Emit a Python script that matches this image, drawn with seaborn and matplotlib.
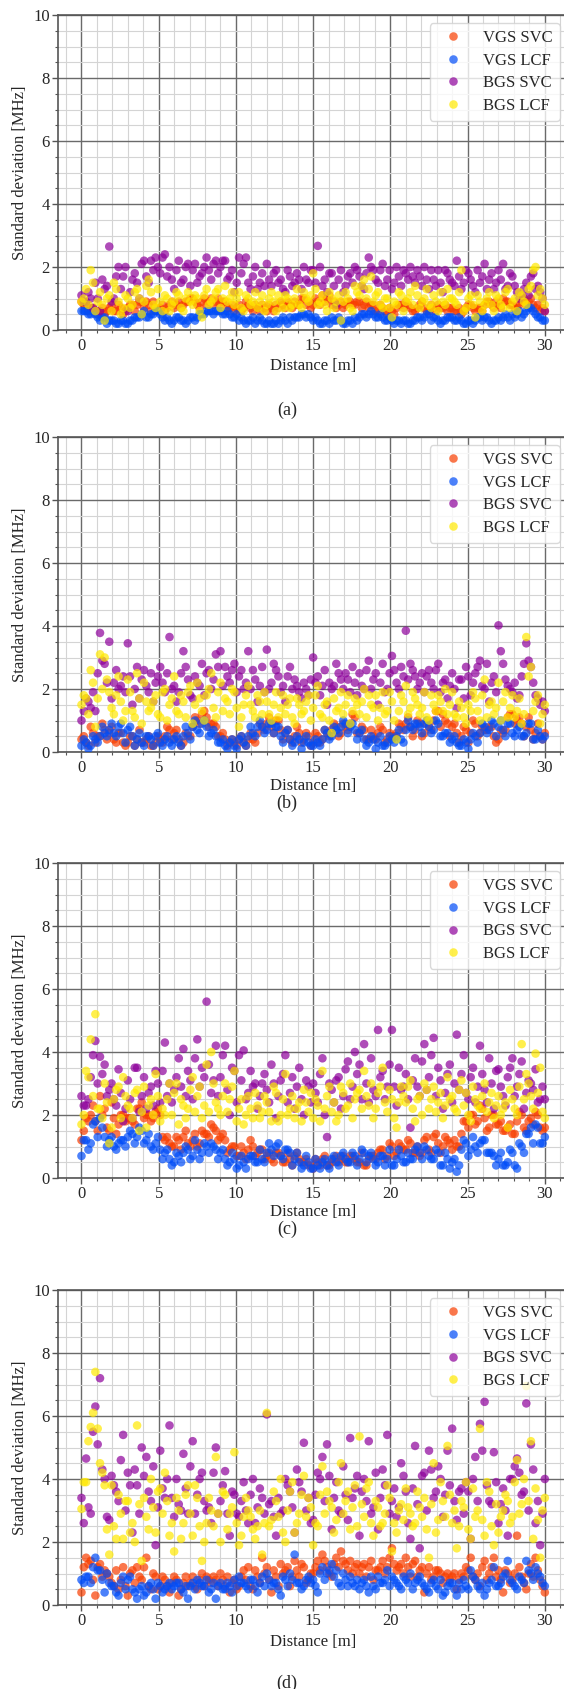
import numpy as np
import pandas as pd
import matplotlib
matplotlib.use("Agg")
import matplotlib.pyplot as plt
from matplotlib.ticker import MultipleLocator
import seaborn as sns

# ---------------- data ----------------
DISTANCE = [round(i * 0.3, 2) for i in range(101)]            # positions 0, 0.3, ... 30 m
DISTANCE_MID = [round(0.15 + i * 0.3, 2) for i in range(100)]  # positions 0.15, 0.45, ... 29.85 m
SERIES = ["VGS SVC", "VGS LCF", "BGS SVC", "BGS LCF"]
COLORS = {"VGS SVC": "#F83E00", "VGS LCF": "#004CF8", "BGS SVC": "#8D009B", "BGS LCF": "#FFE900"}
PANEL_LABELS = ["(a)", "(b)", "(c)", "(d)"]
X_TICKS = [0, 5, 10, 15, 20, 25, 30]
Y_TICKS = [0, 2, 4, 6, 8, 10]

# ---- panel (a)
a_vgs_svc = [0.9, 0.8, 0.7, 0.6, 0.6, 0.5, 0.7, 0.6, 0.8, 0.5, 0.7, 0.8, 0.8, 0.9, 0.9, 0.6, 0.7, 0.7, 0.6, 0.8,
             0.7, 0.9, 0.8, 0.9, 1.0, 0.8, 0.9, 0.8, 1.0, 0.9, 0.8, 0.9, 0.7, 0.6, 0.8, 0.7, 0.8, 0.6, 0.7, 0.8,
             0.6, 0.7, 0.8, 0.9, 0.7, 0.8, 0.9, 0.8, 1.0, 0.9, 0.8, 0.9, 1.1, 1.0, 0.8, 0.7, 0.9, 0.8, 0.9, 0.8,
             0.9, 0.8, 0.7, 0.8, 0.6, 0.7, 0.5, 0.6, 0.7, 0.8, 0.9, 0.7, 0.6, 0.8, 0.7, 0.6, 0.7, 0.8, 0.7, 0.6,
             0.7, 0.6, 0.5, 0.7, 0.8, 0.6, 0.7, 0.8, 0.9, 0.7, 0.8, 1.0, 0.9, 0.8, 0.7, 0.9, 0.8, 1.0, 0.7, 0.6, 0.6]
a_vgs_svc_mid = [0.8, 0.6, 0.7, 0.5, 0.7, 0.6, 0.8, 0.6, 0.7, 0.6, 0.8, 0.6, 0.9, 0.7, 0.8, 0.9, 0.6, 0.8, 0.7, 0.9,
                 0.8, 0.7, 0.9, 1.0, 0.9, 0.7, 1.0, 0.9, 0.8, 1.0, 0.9, 0.7, 0.8, 0.7, 0.6, 0.9, 0.7, 0.8, 0.6, 0.7,
                 0.8, 0.6, 0.7, 0.8, 0.9, 0.7, 0.8, 1.0, 0.8, 0.7, 1.0, 0.8, 0.9, 1.1, 0.9, 0.8, 0.7, 0.9, 0.8, 0.9,
                 0.7, 0.9, 0.8, 0.6, 0.8, 0.6, 0.7, 0.5, 0.8, 0.7, 0.8, 0.6, 0.7, 0.9, 0.6, 0.8, 0.6, 0.7, 0.8, 0.7,
                 0.6, 0.7, 0.6, 0.8, 0.7, 0.7, 0.6, 0.9, 0.8, 0.9, 0.7, 0.9, 0.8, 0.7, 0.8, 1.0, 0.9, 0.8, 0.8, 0.7]
a_vgs_lcf = [0.6, 0.6, 0.5, 0.5, 0.3, 0.4, 0.3, 0.3, 0.2, 0.3, 0.2, 0.3, 0.4, 0.5, 0.4, 0.5, 0.6, 0.5, 0.3, 0.3,
             0.3, 0.4, 0.3, 0.3, 0.4, 0.4, 0.5, 0.6, 0.6, 0.6, 0.6, 0.5, 0.5, 0.4, 0.3, 0.3, 0.3, 0.4, 0.3, 0.3,
             0.2, 0.2, 0.3, 0.3, 0.3, 0.4, 0.4, 0.4, 0.5, 0.5, 0.3, 0.3, 0.2, 0.3, 0.4, 0.3, 0.3, 0.2, 0.3, 0.4,
             0.4, 0.5, 0.5, 0.5, 0.4, 0.4, 0.3, 0.3, 0.3, 0.2, 0.3, 0.2, 0.3, 0.4, 0.4, 0.5, 0.4, 0.3, 0.3, 0.4,
             0.4, 0.3, 0.3, 0.2, 0.3, 0.3, 0.4, 0.4, 0.3, 0.3, 0.4, 0.4, 0.4, 0.5, 0.5, 0.4, 0.6, 0.7, 0.5, 0.4, 0.3]
a_vgs_lcf_mid = [0.6, 0.5, 0.6, 0.4, 0.4, 0.2, 0.3, 0.2, 0.3, 0.2, 0.3, 0.4, 0.4, 0.6, 0.4, 0.5, 0.6, 0.4, 0.4, 0.2,
                 0.4, 0.3, 0.2, 0.4, 0.3, 0.5, 0.5, 0.6, 0.5, 0.6, 0.5, 0.6, 0.4, 0.5, 0.4, 0.2, 0.3, 0.2, 0.4, 0.2,
                 0.3, 0.2, 0.2, 0.4, 0.2, 0.3, 0.4, 0.5, 0.4, 0.4, 0.4, 0.2, 0.3, 0.2, 0.3, 0.4, 0.2, 0.3, 0.2, 0.3,
                 0.5, 0.4, 0.6, 0.4, 0.5, 0.3, 0.4, 0.2, 0.3, 0.3, 0.2, 0.3, 0.4, 0.3, 0.5, 0.3, 0.4, 0.2, 0.3, 0.4,
                 0.3, 0.4, 0.2, 0.3, 0.2, 0.4, 0.3, 0.4, 0.2, 0.3, 0.3, 0.5, 0.3, 0.4, 0.6, 0.5, 0.7, 0.6, 0.4, 0.3]
a_bgs_svc = [1.1, 0.9, 1.0, 1.5, 0.6, 1.3, 2.65, 1.0, 2.0, 1.7, 0.6, 1.6, 1.5, 2.1, 1.7, 2.2, 2.3, 1.8, 2.4, 2.0,
             1.3, 2.2, 1.6, 2.1, 1.9, 1.5, 1.8, 2.3, 1.6, 2.2, 2.0, 2.2, 1.7, 1.2, 2.3, 2.1, 1.5, 1.7, 1.3, 1.8,
             2.1, 1.4, 1.9, 1.6, 1.2, 1.7, 1.5, 1.6, 2.0, 1.5, 1.9, 2.67, 1.4, 1.2, 1.8, 0.8, 1.9, 1.4, 1.8, 2.0,
             1.7, 1.3, 2.3, 1.9, 1.5, 2.1, 1.6, 1.3, 2.0, 1.4, 1.8, 2.0, 1.5, 1.7, 2.0, 1.3, 1.6, 1.9, 1.2, 1.8,
             1.5, 2.2, 1.3, 1.9, 1.6, 1.2, 1.5, 2.1, 1.6, 1.3, 1.9, 2.1, 1.4, 1.7, 1.2, 1.1, 1.5, 1.7, 1.3, 1.2, 0.6]
a_bgs_svc_mid = [0.9, 1.2, 0.7, 1.0, 1.6, 1.4, 0.9, 1.7, 1.3, 2.0, 1.2, 1.8, 1.0, 2.2, 1.5, 1.9, 2.0, 2.3, 1.7, 1.6,
                 1.9, 1.5, 2.0, 1.4, 2.1, 1.7, 2.0, 1.9, 2.1, 1.8, 2.2, 1.6, 1.9, 1.5, 1.8, 2.3, 1.3, 2.0, 1.5, 1.4,
                 1.6, 1.8, 1.5, 1.3, 1.9, 1.4, 1.8, 1.3, 1.6, 1.9, 1.5, 2.0, 1.6, 1.8, 1.4, 1.6, 1.2, 1.7, 1.5, 1.9,
                 1.4, 1.8, 2.0, 1.6, 1.9, 1.4, 1.9, 1.5, 1.7, 1.9, 1.6, 1.7, 1.9, 1.4, 1.6, 1.9, 1.4, 1.5, 1.9, 1.6,
                 1.4, 1.7, 1.5, 1.8, 1.4, 1.9, 1.7, 1.3, 1.8, 1.5, 1.6, 1.3, 1.8, 1.4, 1.0, 1.3, 1.1, 1.8, 1.4, 1.0]
a_bgs_lcf = [0.9, 1.3, 1.9, 0.6, 1.2, 0.3, 1.1, 1.5, 0.9, 0.7, 1.0, 0.8, 1.3, 0.5, 1.4, 1.2, 0.7, 0.9, 1.1, 0.6,
             0.9, 1.1, 0.6, 1.2, 0.8, 1.0, 0.4, 1.3, 0.9, 1.2, 0.7, 1.4, 1.0, 0.8, 1.2, 0.6, 1.0, 0.9, 0.7, 1.1,
             0.8, 1.2, 0.6, 0.9, 1.1, 0.7, 1.0, 0.8, 1.2, 0.9, 1.8, 0.8, 1.1, 0.6, 1.0, 0.9, 0.3, 1.2, 0.7, 1.4,
             1.1, 1.6, 1.3, 0.9, 1.2, 0.7, 1.0, 0.4, 0.8, 1.1, 0.9, 1.2, 1.4, 0.7, 1.0, 0.8, 1.1, 0.6, 0.9, 1.3,
             1.0, 0.8, 1.9, 0.7, 1.1, 0.4, 0.9, 0.8, 1.2, 0.6, 1.0, 0.7, 1.3, 0.9, 0.6, 1.1, 0.8, 1.4, 2.0, 1.3, 0.8]
a_bgs_lcf_mid = [1.0, 0.8, 1.5, 0.9, 0.8, 1.0, 0.6, 1.3, 0.5, 1.1, 0.7, 1.2, 1.0, 0.9, 1.6, 0.8, 1.3, 0.6, 1.0, 0.8,
                 1.2, 0.7, 1.0, 0.9, 1.1, 0.6, 1.1, 0.8, 1.0, 1.3, 1.0, 0.9, 1.2, 1.0, 0.7, 1.1, 0.8, 1.2, 0.9, 0.6,
                 1.0, 0.9, 1.1, 0.7, 1.0, 0.8, 1.3, 0.7, 1.0, 1.1, 1.3, 0.9, 0.8, 1.2, 0.7, 1.1, 0.9, 1.0, 0.6, 1.2,
                 1.4, 1.0, 1.7, 1.1, 0.8, 1.0, 0.7, 0.9, 1.2, 0.6, 1.0, 0.8, 1.1, 0.9, 1.3, 0.7, 0.9, 1.2, 0.8, 1.0,
                 0.9, 1.2, 0.6, 1.0, 0.8, 1.1, 0.6, 1.0, 0.8, 1.1, 0.8, 1.2, 0.7, 1.0, 1.2, 0.9, 1.3, 1.9, 1.1, 1.0]

# ---- panel (b)
b_vgs_svc = [0.4, 0.3, 0.8, 0.3, 0.5, 0.7, 0.6, 0.4, 0.6, 0.3, 0.3, 0.5, 0.4, 0.3, 0.4, 0.2, 0.3, 0.4, 0.5, 0.7,
             0.6, 0.4, 0.3, 0.5, 0.8, 1.0, 1.2, 1.1, 0.9, 0.8, 0.5, 0.4, 0.3, 0.3, 0.4, 0.3, 0.4, 0.4, 0.6, 0.8,
             0.9, 0.8, 1.0, 0.7, 0.6, 0.4, 0.5, 0.6, 0.4, 0.5, 0.3, 0.5, 0.4, 0.6, 0.7, 0.8, 0.6, 0.8, 0.9, 1.1,
             0.6, 0.7, 0.4, 0.5, 0.6, 0.7, 0.4, 0.5, 0.6, 0.8, 0.9, 0.8, 0.7, 0.9, 0.6, 0.8, 1.0, 1.3, 1.2, 0.9,
             0.8, 0.6, 0.5, 0.7, 0.6, 0.9, 0.6, 0.7, 0.8, 0.5, 0.4, 0.6, 1.1, 1.2, 1.0, 0.9, 0.8, 0.7, 0.6, 0.5, 0.6]
b_vgs_svc_mid = [0.5, 0.2, 0.6, 0.5, 0.9, 0.4, 0.8, 0.3, 0.6, 0.2, 0.5, 0.2, 0.7, 0.3, 0.5, 0.2, 0.5, 0.3, 0.8, 0.4,
                 0.7, 0.2, 0.6, 0.5, 1.1, 0.9, 1.3, 0.8, 0.9, 0.5, 0.6, 0.2, 0.4, 0.2, 0.5, 0.2, 0.6, 0.3, 0.9, 0.7,
                 1.1, 0.6, 1.0, 0.4, 0.7, 0.3, 0.8, 0.3, 0.6, 0.2, 0.6, 0.3, 0.7, 0.5, 0.9, 0.5, 0.9, 0.7, 1.2, 0.6,
                 0.8, 0.4, 0.7, 0.4, 0.8, 0.3, 0.6, 0.5, 0.9, 0.7, 1.1, 0.5, 1.0, 0.5, 0.9, 0.7, 1.3, 0.8, 1.0, 0.5,
                 0.9, 0.3, 0.8, 0.3, 1.0, 0.5, 0.8, 0.7, 0.8, 0.3, 0.7, 0.7, 1.2, 0.9, 1.1, 0.5, 1.1, 0.4, 0.9, 0.4]
b_vgs_lcf = [0.2, 0.3, 0.2, 0.4, 0.5, 0.6, 0.7, 0.6, 0.8, 0.6, 0.7, 0.5, 0.4, 0.3, 0.5, 0.4, 0.5, 0.3, 0.4, 0.3,
             0.4, 0.3, 0.5, 0.6, 0.8, 0.7, 0.9, 0.8, 0.6, 0.5, 0.3, 0.2, 0.3, 0.2, 0.4, 0.3, 0.5, 0.6, 0.8, 0.8,
             0.7, 0.9, 0.8, 0.5, 0.6, 0.4, 0.3, 0.4, 0.3, 0.3, 0.2, 0.3, 0.4, 0.6, 0.5, 0.7, 0.8, 0.9, 0.8, 0.7,
             0.6, 0.4, 0.3, 0.4, 0.3, 0.2, 0.3, 0.4, 0.5, 0.4, 0.7, 0.8, 0.9, 0.8, 0.9, 0.8, 0.7, 0.9, 0.5, 0.6,
             0.4, 0.3, 0.2, 0.3, 0.4, 0.5, 0.6, 0.8, 0.7, 0.9, 0.8, 0.7, 0.9, 0.6, 0.7, 0.5, 0.6, 0.9, 0.4, 0.5, 0.5]
b_vgs_lcf_mid = [0.4, 0.1, 0.5, 0.3, 0.8, 0.5, 0.9, 0.5, 0.9, 0.3, 0.8, 0.2, 0.6, 0.2, 0.5, 0.2, 0.6, 0.2, 0.5, 0.2,
                 0.5, 0.2, 0.8, 0.4, 1.0, 0.6, 1.0, 0.5, 0.7, 0.3, 0.4, 0.1, 0.4, 0.1, 0.5, 0.2, 0.8, 0.5, 1.0, 0.6,
                 0.9, 0.6, 0.8, 0.3, 0.7, 0.2, 0.5, 0.1, 0.5, 0.2, 0.4, 0.2, 0.7, 0.4, 0.8, 0.6, 1.0, 0.6, 0.9, 0.4,
                 0.7, 0.2, 0.5, 0.1, 0.5, 0.2, 0.5, 0.3, 0.7, 0.3, 1.0, 0.7, 0.9, 0.6, 1.0, 0.6, 1.0, 0.5, 0.6, 0.3,
                 0.5, 0.2, 0.4, 0.1, 0.6, 0.3, 0.9, 0.6, 1.0, 0.5, 1.0, 0.5, 0.9, 0.5, 0.8, 0.5, 0.9, 0.4, 0.7, 0.4]
b_bgs_svc = [1.0, 1.7, 1.4, 1.3, 3.78, 2.8, 3.5, 2.2, 2.0, 2.4, 3.45, 1.5, 2.7, 2.3, 2.1, 2.5, 2.2, 2.7, 1.9, 3.65,
             2.1, 1.9, 3.2, 2.3, 1.7, 2.2, 2.8, 2.5, 2.0, 3.1, 3.2, 2.7, 2.2, 2.8, 2.4, 2.0, 3.2, 2.6, 1.6, 2.7,
             3.25, 2.2, 2.6, 1.9, 1.6, 2.7, 2.3, 1.9, 2.2, 1.8, 3.0, 2.4, 2.1, 1.5, 2.0, 2.8, 2.3, 2.5, 1.9, 2.2,
             2.5, 2.0, 2.9, 2.3, 1.5, 2.8, 2.0, 3.05, 2.2, 2.7, 3.85, 2.8, 2.4, 2.2, 1.9, 2.6, 2.0, 2.8, 2.2, 1.7,
             2.5, 1.4, 2.3, 2.7, 1.8, 2.5, 2.9, 2.0, 1.6, 2.4, 4.02, 2.8, 2.1, 1.9, 1.7, 2.4, 3.45, 2.7, 1.8, 1.5, 1.3]
b_bgs_svc_mid = [1.3, 1.6, 1.9, 2.5, 2.9, 2.2, 1.7, 2.6, 2.1, 1.9, 2.4, 2.0, 1.7, 2.6, 1.9, 1.6, 2.4, 2.2, 2.5, 2.0,
                 1.6, 2.5, 2.7, 1.8, 2.4, 2.1, 1.8, 2.6, 2.3, 2.7, 2.1, 2.4, 2.6, 1.9, 2.6, 2.2, 2.0, 2.3, 2.1, 1.9,
                 2.0, 2.8, 2.4, 2.1, 2.4, 2.0, 2.1, 1.7, 2.0, 2.3, 2.2, 1.8, 2.6, 2.2, 2.1, 2.5, 2.0, 2.3, 2.7, 1.8,
                 2.1, 2.6, 2.0, 2.5, 2.2, 1.9, 2.5, 2.6, 2.0, 2.4, 2.3, 2.6, 2.0, 2.5, 2.4, 2.2, 2.6, 1.9, 2.3, 2.1,
                 2.0, 2.3, 1.7, 2.4, 2.2, 2.7, 2.1, 2.8, 2.2, 1.9, 3.2, 2.3, 2.0, 2.2, 1.8, 2.8, 2.9, 2.2, 1.7, 1.6]
b_bgs_lcf = [1.5, 1.7, 2.6, 0.8, 3.1, 3.0, 1.9, 1.2, 2.4, 1.0, 2.3, 1.3, 2.5, 0.9, 1.6, 1.4, 1.8, 1.1, 2.0, 1.5,
             2.4, 1.2, 1.6, 1.9, 0.9, 2.2, 1.3, 1.8, 2.5, 1.1, 2.2, 1.7, 1.2, 1.9, 0.8, 1.5, 2.1, 1.3, 1.8, 1.2,
             1.6, 1.0, 1.9, 1.4, 1.2, 1.7, 0.9, 1.5, 1.3, 1.8, 1.4, 2.1, 1.1, 1.6, 0.6, 1.3, 1.9, 1.5, 0.9, 1.7,
             1.2, 2.0, 1.8, 1.4, 1.0, 1.9, 1.3, 1.6, 0.4, 1.8, 2.1, 1.4, 1.7, 1.2, 1.9, 1.0, 1.5, 1.8, 1.3, 1.2,
             1.9, 1.1, 1.4, 0.9, 1.3, 1.7, 1.0, 2.3, 1.5, 1.2, 2.2, 1.6, 1.1, 1.8, 1.3, 0.9, 3.65, 2.7, 1.6, 0.9, 1.5]
b_bgs_lcf_mid = [1.8, 1.2, 2.2, 1.7, 2.0, 2.3, 1.4, 1.8, 1.6, 1.3, 1.9, 1.1, 1.7, 2.2, 1.3, 1.6, 1.2, 1.9, 1.0, 1.7,
                 1.3, 1.8, 1.1, 2.1, 1.5, 1.7, 1.0, 2.0, 1.4, 1.9, 1.3, 1.6, 2.0, 1.4, 1.1, 1.8, 1.5, 1.1, 1.6, 1.9,
                 1.2, 1.5, 1.1, 1.8, 1.5, 1.1, 1.7, 1.2, 1.6, 1.0, 1.8, 1.2, 1.5, 1.0, 1.7, 1.4, 1.2, 1.8, 1.3, 1.5,
                 1.6, 1.1, 1.5, 1.8, 1.4, 1.2, 1.9, 1.0, 1.3, 1.6, 1.2, 1.9, 1.5, 1.4, 1.1, 1.8, 1.3, 1.6, 2.0, 1.5,
                 1.2, 1.6, 1.1, 1.5, 1.9, 1.3, 1.8, 1.1, 1.6, 1.4, 1.0, 1.9, 1.4, 1.1, 1.7, 1.2, 2.4, 1.3, 1.8, 1.2]

# ---- panel (c)
c_vgs_svc = [1.2, 1.9, 2.0, 1.8, 2.6, 2.2, 1.5, 1.9, 1.7, 2.0, 1.9, 1.8, 2.2, 2.4, 2.0, 1.8, 2.1, 2.0, 1.2, 1.1,
             1.0, 1.2, 1.3, 1.1, 1.2, 1.0, 1.5, 1.4, 1.7, 1.5, 1.3, 1.2, 0.9, 1.0, 0.7, 0.8, 0.9, 1.0, 0.8, 0.9,
             0.7, 0.6, 0.8, 0.7, 0.5, 0.6, 0.7, 0.6, 0.5, 0.4, 0.3, 0.5, 0.6, 0.4, 0.5, 0.7, 0.6, 0.5, 0.7, 0.6,
             0.5, 0.4, 0.6, 0.7, 0.8, 0.9, 0.7, 1.0, 0.8, 1.0, 0.9, 1.1, 0.8, 0.7, 1.2, 0.9, 1.3, 1.1, 1.0, 1.2,
             0.9, 1.0, 1.4, 1.8, 2.0, 1.7, 2.3, 1.9, 1.6, 2.0, 1.7, 1.5, 1.6, 1.4, 1.8, 2.0, 1.5, 1.9, 2.1, 1.6, 1.6]
c_vgs_svc_mid = [1.5, 1.8, 2.3, 1.5, 2.0, 1.6, 2.4, 1.4, 2.0, 1.8, 1.9, 1.7, 2.2, 1.9, 2.0, 1.9, 2.2, 1.3, 1.3, 1.0,
                 1.3, 0.9, 1.5, 1.0, 1.4, 1.1, 1.4, 1.3, 1.6, 1.2, 1.4, 0.8, 1.0, 0.7, 1.0, 0.6, 1.2, 0.7, 0.9, 0.6,
                 0.8, 0.5, 0.8, 0.5, 0.8, 0.4, 0.8, 0.5, 0.6, 0.4, 0.6, 0.4, 0.7, 0.4, 0.6, 0.5, 0.7, 0.5, 0.7, 0.5,
                 0.8, 0.4, 0.7, 0.6, 0.9, 0.6, 1.1, 0.7, 1.1, 0.9, 1.2, 0.8, 1.0, 0.8, 1.3, 0.8, 1.4, 0.8, 1.3, 1.1,
                 1.2, 1.0, 1.8, 1.6, 2.0, 1.8, 2.2, 1.5, 2.0, 1.7, 1.8, 1.5, 1.7, 1.4, 2.1, 1.6, 1.8, 1.7, 2.0, 1.5]
c_vgs_lcf = [0.7, 1.2, 1.1, 1.8, 1.9, 1.3, 1.2, 1.0, 1.1, 1.2, 1.3, 1.4, 1.3, 1.5, 1.2, 1.0, 1.1, 0.9, 0.8, 0.6,
             0.5, 0.7, 0.8, 0.9, 0.7, 0.9, 0.8, 1.0, 1.1, 0.9, 0.8, 0.6, 0.5, 0.6, 0.4, 0.5, 0.6, 0.7, 0.5, 0.6,
             0.8, 0.9, 1.0, 0.7, 0.9, 0.8, 0.6, 0.5, 0.4, 0.5, 0.3, 0.4, 0.5, 0.4, 0.6, 0.5, 0.7, 0.6, 0.5, 0.7,
             0.6, 0.8, 0.7, 0.6, 0.5, 0.7, 0.6, 0.4, 0.6, 0.7, 0.5, 0.6, 0.9, 0.8, 1.0, 0.7, 0.6, 0.8, 0.4, 0.6,
             0.5, 0.2, 0.9, 1.1, 0.9, 1.0, 1.1, 1.2, 0.8, 0.7, 0.6, 0.4, 0.5, 0.8, 0.3, 1.0, 1.4, 1.6, 1.7, 1.1, 1.3]
c_vgs_lcf_mid = [1.2, 0.9, 1.7, 1.3, 1.6, 1.0, 1.3, 0.9, 1.2, 1.0, 1.5, 1.1, 1.6, 1.1, 1.4, 0.9, 1.3, 0.6, 0.9, 0.4,
                 0.8, 0.5, 1.0, 0.6, 1.2, 0.6, 1.1, 0.8, 1.0, 0.6, 0.9, 0.4, 0.8, 0.3, 0.7, 0.3, 0.7, 0.5, 0.9, 0.5,
                 1.1, 0.7, 1.1, 0.6, 0.9, 0.4, 0.8, 0.3, 0.7, 0.3, 0.6, 0.3, 0.6, 0.3, 0.7, 0.4, 0.8, 0.5, 0.8, 0.4,
                 0.9, 0.5, 0.8, 0.4, 0.7, 0.4, 0.9, 0.4, 0.9, 0.5, 0.8, 0.6, 1.0, 0.6, 0.9, 0.6, 0.9, 0.4, 0.8, 0.3,
                 0.6, 0.4, 1.2, 0.7, 1.3, 0.8, 1.2, 0.8, 0.8, 0.4, 0.8, 0.4, 0.9, 0.4, 1.1, 0.8, 1.4, 1.1, 1.6, 1.1]
c_bgs_svc = [2.6, 2.3, 3.2, 4.35, 3.85, 3.6, 2.8, 2.5, 3.45, 1.8, 3.1, 1.9, 3.5, 2.6, 2.2, 2.9, 3.4, 2.4, 4.3, 3.0,
             2.8, 3.8, 4.1, 3.4, 2.5, 4.4, 3.5, 5.6, 2.7, 4.2, 3.2, 4.2, 2.0, 3.4, 3.9, 4.05, 2.7, 2.9, 2.2, 3.0,
             2.8, 3.6, 1.9, 3.1, 3.9, 2.7, 2.2, 3.5, 2.0, 2.9, 3.0, 2.4, 3.8, 1.3, 2.8, 3.1, 2.2, 3.45, 2.5, 4.0,
             3.6, 4.25, 2.4, 2.8, 4.7, 3.4, 2.9, 4.7, 2.3, 2.8, 3.3, 1.6, 3.8, 2.6, 4.25, 3.2, 4.45, 3.5, 2.2, 3.3,
             2.4, 4.55, 3.3, 2.7, 3.2, 2.4, 4.2, 2.8, 3.8, 2.2, 3.45, 2.6, 3.2, 3.8, 2.9, 3.7, 2.7, 3.0, 3.45, 2.5, 2.5]
c_bgs_svc_mid = [2.3, 2.5, 3.9, 3.0, 3.3, 2.6, 3.0, 2.3, 2.7, 2.2, 2.5, 3.5, 2.1, 3.2, 2.7, 2.3, 3.0, 3.4, 2.6, 2.4,
                 3.2, 2.9, 2.6, 3.1, 3.8, 2.9, 3.2, 3.6, 3.1, 2.6, 3.9, 2.8, 3.5, 2.4, 3.1, 2.5, 3.4, 3.0, 2.6, 3.3,
                 2.4, 3.0, 2.6, 3.3, 2.4, 3.2, 2.9, 2.5, 3.1, 2.4, 2.7, 3.3, 2.0, 3.0, 2.4, 3.2, 2.6, 3.7, 2.9, 3.3,
                 2.5, 3.0, 3.8, 2.6, 3.2, 2.5, 3.6, 2.9, 3.5, 2.9, 2.5, 3.1, 2.9, 3.7, 2.8, 3.9, 2.6, 3.1, 2.7, 3.6,
                 3.0, 2.8, 3.9, 2.5, 3.5, 2.9, 3.3, 2.4, 3.0, 3.4, 2.9, 2.3, 3.5, 2.6, 3.3, 2.2, 3.1, 2.8, 2.4, 2.9]
c_bgs_lcf = [1.7, 3.4, 4.4, 5.2, 2.2, 3.0, 1.1, 2.5, 2.9, 3.2, 2.3, 1.9, 2.8, 2.1, 1.6, 2.5, 3.3, 1.8, 2.0, 3.0,
             2.7, 1.7, 2.3, 2.2, 3.2, 2.6, 1.9, 3.6, 4.0, 2.4, 2.0, 3.0, 2.5, 3.4, 2.2, 1.7, 2.6, 1.9, 2.3, 2.1,
             2.4, 1.8, 2.7, 2.0, 3.3, 2.2, 1.9, 2.4, 2.8, 2.1, 1.9, 2.3, 3.4, 2.6, 2.1, 1.8, 2.9, 2.2, 3.0, 2.5,
             2.8, 3.4, 2.3, 1.9, 2.7, 3.5, 2.1, 2.5, 1.6, 2.9, 2.4, 3.1, 1.8, 2.6, 3.0, 2.2, 2.9, 2.4, 1.9, 3.2,
             2.6, 2.1, 3.1, 2.7, 1.8, 2.5, 2.2, 3.0, 2.4, 1.9, 2.6, 2.2, 1.6, 2.5, 2.0, 4.25, 3.3, 2.6, 3.95, 3.5, 1.9]
c_bgs_lcf_mid = [2.0, 3.2, 2.6, 2.2, 1.9, 2.4, 1.6, 2.8, 1.9, 2.6, 2.2, 2.7, 1.5, 2.9, 2.3, 2.0, 2.6, 2.2, 2.5, 2.0,
                 3.0, 2.5, 1.9, 2.8, 2.1, 2.9, 2.3, 2.1, 3.0, 2.2, 2.6, 2.1, 2.9, 1.8, 2.5, 2.0, 2.2, 2.7, 1.9, 2.6,
                 2.1, 2.9, 1.8, 2.5, 2.0, 2.6, 2.2, 1.8, 2.4, 2.7, 2.5, 1.8, 2.2, 2.9, 2.4, 2.0, 2.7, 2.3, 1.9, 2.7,
                 2.2, 2.6, 3.0, 2.2, 2.9, 2.4, 2.8, 1.9, 2.4, 2.6, 2.9, 2.2, 2.5, 2.0, 2.8, 2.5, 2.1, 2.7, 2.3, 2.5,
                 2.2, 2.8, 2.3, 2.0, 2.9, 2.3, 2.6, 2.1, 2.7, 2.3, 2.0, 2.4, 2.8, 2.2, 2.9, 2.5, 3.0, 2.2, 2.7, 2.1]

# ---- panel (d)
d_vgs_svc = [0.4, 1.5, 1.4, 0.3, 1.3, 1.1, 0.9, 0.6, 0.5, 1.2, 0.3, 1.1, 1.2, 0.8, 1.5, 0.5, 0.9, 0.6, 0.8, 0.4,
             0.9, 0.3, 0.7, 0.6, 0.9, 0.5, 1.0, 0.9, 0.7, 0.8, 1.0, 0.6, 0.4, 0.8, 0.6, 1.1, 1.2, 0.5, 0.9, 1.5,
             1.2, 0.4, 0.9, 1.3, 1.1, 0.6, 1.4, 0.9, 1.2, 0.8, 1.0, 1.4, 1.6, 1.2, 0.9, 1.5, 1.7, 1.3, 1.4, 1.2,
             1.0, 1.3, 1.2, 0.8, 1.1, 1.4, 1.2, 1.8, 1.1, 1.3, 1.5, 0.9, 1.4, 1.1, 0.4, 1.2, 0.9, 1.1, 0.7, 1.0,
             0.9, 0.5, 1.0, 1.2, 1.5, 0.8, 0.6, 1.4, 1.0, 1.5, 1.1, 0.4, 1.0, 0.8, 2.2, 0.9, 0.5, 1.3, 1.5, 0.8, 0.4]
d_vgs_svc_mid = [1.2, 1.3, 0.8, 1.2, 0.9, 1.0, 0.7, 1.1, 0.8, 0.6, 1.0, 0.7, 0.9, 1.2, 0.6, 1.0, 0.5, 0.9, 0.6, 0.7,
                 0.8, 0.5, 0.9, 0.7, 0.6, 0.8, 0.6, 0.8, 0.9, 0.6, 0.8, 0.9, 0.7, 0.5, 0.9, 0.8, 0.6, 1.1, 0.7, 1.0,
                 0.8, 1.1, 0.6, 1.0, 1.2, 0.9, 1.1, 1.3, 0.7, 1.0, 1.2, 1.1, 1.4, 1.0, 1.3, 1.2, 1.4, 1.1, 1.0, 1.3,
                 1.2, 0.9, 1.4, 1.1, 1.2, 1.0, 1.5, 1.3, 1.2, 1.0, 1.2, 1.3, 0.9, 1.2, 1.0, 0.8, 1.1, 1.0, 0.9, 0.8,
                 1.0, 0.8, 0.9, 1.1, 0.9, 1.0, 1.2, 0.8, 1.2, 0.9, 0.8, 1.1, 0.7, 1.0, 1.2, 0.7, 1.0, 0.9, 1.1, 0.6]
d_vgs_lcf = [0.8, 0.9, 0.7, 1.5, 1.1, 0.4, 0.7, 0.6, 0.3, 0.9, 0.8, 0.5, 0.2, 0.6, 0.4, 0.7, 0.2, 0.6, 0.5, 0.7,
             0.6, 0.7, 0.4, 0.2, 0.7, 0.8, 0.6, 0.8, 0.5, 0.2, 0.7, 0.5, 0.6, 0.8, 0.9, 0.7, 0.5, 0.8, 0.4, 0.9,
             1.0, 0.6, 0.7, 0.3, 0.8, 1.0, 1.6, 0.7, 0.6, 0.9, 0.8, 0.4, 1.2, 1.0, 1.3, 1.1, 0.6, 0.8, 0.9, 0.6,
             0.5, 0.8, 0.4, 0.6, 0.9, 0.7, 1.1, 0.9, 0.7, 0.5, 0.8, 1.0, 0.7, 0.9, 0.6, 0.4, 0.8, 0.5, 0.3, 0.6,
             0.7, 0.3, 0.5, 0.6, 1.1, 0.8, 0.5, 0.3, 0.7, 1.2, 0.6, 0.9, 1.4, 0.7, 0.5, 0.8, 1.4, 1.0, 1.2, 0.9, 0.6]
d_vgs_lcf_mid = [0.7, 0.9, 1.2, 1.1, 0.8, 1.0, 0.6, 0.4, 0.7, 0.5, 0.9, 0.4, 0.5, 0.3, 0.6, 0.5, 0.7, 0.4, 0.6, 0.5,
                 0.7, 0.5, 0.6, 0.6, 0.5, 0.7, 0.6, 0.4, 0.7, 0.6, 0.5, 0.7, 0.4, 0.6, 0.7, 0.6, 0.8, 0.6, 0.7, 0.6,
                 0.8, 0.7, 0.5, 0.9, 0.6, 0.8, 0.7, 0.5, 0.8, 0.7, 0.6, 1.0, 0.8, 1.1, 0.9, 0.7, 1.0, 0.6, 0.7, 0.8,
                 0.7, 0.6, 0.9, 0.5, 0.7, 0.8, 0.6, 0.8, 0.6, 0.9, 0.7, 0.5, 0.8, 0.7, 0.5, 0.7, 0.6, 0.8, 0.4, 0.7,
                 0.5, 0.7, 0.8, 0.5, 0.9, 0.6, 0.7, 0.5, 0.8, 0.6, 0.7, 1.0, 0.8, 0.6, 0.9, 0.7, 1.1, 0.8, 1.0, 0.7]
d_bgs_svc = [3.4, 4.65, 2.9, 6.3, 7.2, 4.0, 2.7, 3.8, 3.3, 5.4, 4.2, 2.3, 3.8, 5.0, 4.7, 3.3, 1.9, 4.9, 3.4, 5.7,
             2.8, 3.2, 4.8, 2.9, 5.2, 3.5, 4.2, 3.0, 2.6, 5.0, 3.3, 4.25, 2.2, 3.5, 2.8, 3.9, 2.6, 4.0, 3.1, 3.4,
             6.05, 3.3, 2.2, 2.9, 4.0, 3.6, 2.3, 3.9, 5.15, 3.4, 2.7, 4.2, 4.7, 5.1, 2.4, 3.9, 2.9, 3.5, 5.3, 3.7,
             2.2, 4.0, 5.2, 3.1, 2.4, 4.3, 5.4, 3.3, 2.8, 4.5, 3.6, 2.1, 5.05, 1.8, 4.2, 4.9, 3.4, 4.4, 2.8, 4.9,
             5.6, 2.7, 3.7, 3.9, 2.1, 4.7, 5.75, 6.45, 3.3, 4.85, 2.6, 3.7, 2.2, 4.0, 4.65, 3.5, 6.4, 5.1, 2.6, 1.9, 4.0]
d_bgs_svc_mid = [2.6, 3.1, 5.5, 5.1, 4.3, 2.8, 4.1, 3.6, 4.6, 3.0, 3.8, 4.3, 2.9, 4.1, 3.6, 4.4, 3.1, 3.7, 4.0, 3.4,
                 4.0, 3.0, 3.7, 4.4, 2.9, 4.0, 3.3, 3.1, 4.2, 2.9, 3.8, 2.9, 3.6, 2.9, 3.3, 3.0, 3.5, 2.6, 3.7, 2.9,
                 3.2, 2.8, 3.4, 3.0, 3.8, 3.1, 4.3, 3.6, 3.0, 2.6, 3.5, 4.0, 3.3, 4.1, 3.4, 3.0, 4.4, 2.7, 3.4, 4.1,
                 3.6, 3.3, 2.9, 4.2, 3.4, 3.8, 2.9, 3.7, 3.1, 4.1, 2.6, 3.7, 3.2, 4.1, 3.0, 4.3, 3.6, 4.0, 3.5, 3.8,
                 3.3, 3.6, 2.9, 3.6, 4.0, 3.3, 4.9, 3.8, 3.2, 3.9, 3.2, 3.0, 4.0, 4.4, 4.2, 3.6, 3.0, 4.3, 3.3, 2.9]
d_bgs_lcf = [3.05, 3.9, 5.65, 7.4, 4.5, 3.8, 1.6, 2.5, 3.5, 2.1, 3.3, 2.6, 5.7, 1.4, 2.8, 4.0, 2.3, 3.7, 4.2, 2.2,
             1.7, 3.0, 2.6, 3.8, 2.2, 3.4, 1.4, 2.6, 3.0, 4.7, 2.0, 3.5, 2.9, 4.85, 1.9, 2.8, 3.0, 2.4, 2.5, 1.6,
             6.1, 2.7, 3.3, 4.0, 2.0, 3.6, 2.3, 2.9, 4.1, 3.4, 1.9, 2.5, 4.4, 3.6, 3.1, 2.7, 4.5, 3.3, 2.4, 3.8,
             5.35, 2.8, 3.9, 2.2, 3.1, 2.6, 3.8, 1.7, 2.3, 3.2, 3.7, 2.9, 2.6, 3.1, 3.4, 1.5, 4.5, 2.7, 3.3, 5.05,
             2.6, 1.8, 3.3, 3.9, 2.1, 2.8, 5.6, 2.2, 3.6, 1.9, 2.3, 3.0, 3.3, 2.8, 4.6, 3.2, 6.95, 5.2, 3.7, 1.5, 3.4]
d_bgs_lcf_mid = [3.9, 5.2, 6.1, 5.6, 4.2, 2.4, 3.8, 2.1, 2.9, 3.3, 2.3, 2.0, 3.2, 3.4, 2.4, 3.1, 3.6, 2.9, 3.3, 2.6,
                 3.4, 2.1, 3.5, 2.9, 3.8, 2.5, 2.0, 3.4, 2.5, 2.9, 3.6, 2.4, 3.1, 2.6, 2.2, 3.4, 2.8, 2.1, 3.0, 2.6,
                 2.5, 3.6, 2.8, 2.3, 3.0, 3.9, 2.6, 3.5, 2.8, 3.1, 2.6, 3.5, 2.9, 3.3, 2.3, 3.9, 2.9, 3.6, 3.1, 2.5,
                 3.2, 3.7, 2.6, 3.3, 2.5, 2.9, 3.4, 2.6, 3.0, 2.7, 3.1, 2.5, 3.6, 2.8, 2.4, 3.2, 2.3, 3.9, 2.8, 3.5,
                 3.0, 2.5, 3.1, 2.4, 3.7, 3.0, 2.7, 3.9, 2.5, 3.2, 2.8, 3.5, 2.6, 3.9, 2.9, 4.0, 3.3, 2.1, 2.7, 3.0]

PANELS = [
    [(a_vgs_svc, a_vgs_svc_mid), (a_vgs_lcf, a_vgs_lcf_mid), (a_bgs_svc, a_bgs_svc_mid), (a_bgs_lcf, a_bgs_lcf_mid)],
    [(b_vgs_svc, b_vgs_svc_mid), (b_vgs_lcf, b_vgs_lcf_mid), (b_bgs_svc, b_bgs_svc_mid), (b_bgs_lcf, b_bgs_lcf_mid)],
    [(c_vgs_svc, c_vgs_svc_mid), (c_vgs_lcf, c_vgs_lcf_mid), (c_bgs_svc, c_bgs_svc_mid), (c_bgs_lcf, c_bgs_lcf_mid)],
    [(d_vgs_svc, d_vgs_svc_mid), (d_vgs_lcf, d_vgs_lcf_mid), (d_bgs_svc, d_bgs_svc_mid), (d_bgs_lcf, d_bgs_lcf_mid)],
]

# ---------------- style ----------------
sns.set_style("whitegrid")
plt.rcParams["font.family"] = ["Liberation Serif", "DejaVu Serif"]
plt.rcParams["font.size"] = 12

W, H = 564, 1689
fig = plt.figure(figsize=(W / 100, H / 100), dpi=100)

ax_left, ax_right = 58.3, 568.0
tops = [15, 437, 863, 1290]
ax_h = 315
caption_y = [410, 803, 1229, 1683]
xlabel_pad = [3, 1, 1, 3]

for i, series_vals in enumerate(PANELS):
    frames = []
    for name, (vals, vals_mid) in zip(SERIES, series_vals):
        frames.append(pd.DataFrame({"Distance": DISTANCE + DISTANCE_MID,
                                    "Std": list(vals) + list(vals_mid),
                                    "Method": name}))
    df = pd.concat(frames, ignore_index=True)

    top = tops[i]
    ax = fig.add_axes([ax_left / W, 1 - (top + ax_h) / H, (ax_right - ax_left) / W, ax_h / H])
    sns.scatterplot(data=df, x="Distance", y="Std", hue="Method", hue_order=SERIES,
                    palette=COLORS, s=38, alpha=0.7, linewidth=0, ax=ax, zorder=3)

    ax.set_xlim(-1.5, 31.5)
    ax.set_ylim(0, 10)
    ax.set_xticks(X_TICKS)
    ax.set_yticks(Y_TICKS)
    ax.xaxis.set_minor_locator(MultipleLocator(1))
    ax.yaxis.set_minor_locator(MultipleLocator(0.5))
    ax.set_axisbelow(True)
    ax.grid(which="major", color="#6a6a6a", linewidth=1.0)
    ax.grid(which="minor", color="#d4d4d4", linewidth=0.8)
    for sp in ax.spines.values():
        sp.set_color("#555555")
        sp.set_linewidth(1.2)
    ax.tick_params(which="major", direction="out", length=4, width=1, color="#555555",
                   labelsize=12, left=True, bottom=True, pad=2)
    ax.tick_params(which="minor", direction="out", length=2.5, width=0.8, color="#555555",
                   left=True, bottom=True)
    ax.set_xlabel("Distance [m]", fontsize=12, labelpad=xlabel_pad[i])
    ax.set_ylabel("Standard deviation [MHz]", fontsize=12, labelpad=4)

    handles, labels = ax.get_legend_handles_labels()
    ax.legend(handles, labels, loc="upper right", fontsize=12, labelspacing=0.4,
              frameon=True, framealpha=0.8, edgecolor="#d0d0d0", fancybox=True)

    fig.text(287 / W, 1 - caption_y[i] / H, PANEL_LABELS[i], ha="center", va="center", fontsize=13)

fig.savefig("out.png", dpi=100)
